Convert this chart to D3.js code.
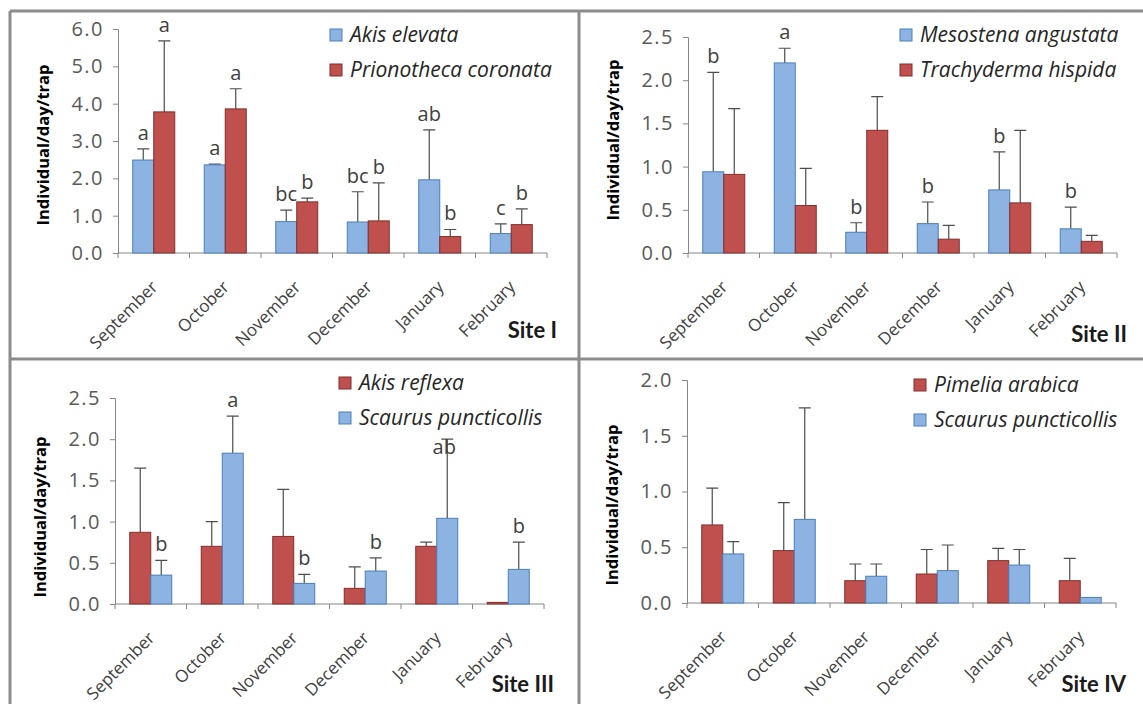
<!DOCTYPE html>
<html>
<head>
<meta charset="utf-8">
<script src="https://cdn.jsdelivr.net/npm/d3@7"></script>
<style>
  body { margin: 0; background: #fff; }
  svg { display: block; }
  text { font-family: "Open Sans", Lato, sans-serif; }
</style>
</head>
<body>
<div id="chart"></div>
<script>
// Months shared by all four sites
const months = ["September", "October", "November", "December", "January", "February"];

// Site I
const site1Names = ["Akis elevata", "Prionotheca coronata"];
const site1A = [2.49, 2.36, 0.84, 0.83, 1.96, 0.52];
const site1AErr = [2.79, 2.38, 1.15, 1.64, 3.30, 0.78];
const site1B = [3.78, 3.86, 1.37, 0.86, 0.44, 0.76];
const site1BErr = [5.68, 4.40, 1.47, 1.88, 0.63, 1.18];
const site1ALetters = ["a", "a", "bc", "bc", "ab", "c"];
const site1BLetters = ["a", "a", "b", "b", "b", "b"];
const site1Ticks = [0, 1, 2, 3, 4, 5, 6];

// Site II
const site2Names = ["Mesostena angustata", "Trachyderma hispida"];
const site2A = [0.94, 2.20, 0.24, 0.34, 0.73, 0.28];
const site2AErr = [2.09, 2.37, 0.35, 0.59, 1.17, 0.53];
const site2B = [0.91, 0.55, 1.42, 0.16, 0.58, 0.135];
const site2BErr = [1.67, 0.98, 1.81, 0.32, 1.42, 0.205];
const site2ALetters = ["b", "a", "b", "b", "b", "b"];
const site2BLetters = ["", "", "", "", "", ""];
const site2Ticks = [0, 0.5, 1, 1.5, 2, 2.5];

// Site III
const site3Names = ["Akis reflexa", "Scaurus puncticollis"];
const site3A = [0.87, 0.70, 0.82, 0.19, 0.70, 0.02];
const site3AErr = [1.65, 1.00, 1.39, 0.45, 0.75, 0.02];
const site3B = [0.35, 1.83, 0.25, 0.40, 1.04, 0.42];
const site3BErr = [0.53, 2.28, 0.36, 0.56, 2.00, 0.75];
const site3ALetters = ["", "", "", "", "", ""];
const site3BLetters = ["b", "a", "b", "b", "ab", "b"];
const site3Ticks = [0, 0.5, 1, 1.5, 2, 2.5];

// Site IV
const site4Names = ["Pimelia arabica", "Scaurus puncticollis"];
const site4A = [0.70, 0.47, 0.20, 0.26, 0.38, 0.20];
const site4AErr = [1.03, 0.90, 0.35, 0.48, 0.49, 0.40];
const site4B = [0.44, 0.75, 0.24, 0.29, 0.34, 0.05];
const site4BErr = [0.55, 1.75, 0.35, 0.52, 0.48, 0.05];
const site4ALetters = ["", "", "", "", "", ""];
const site4BLetters = ["", "", "", "", "", ""];
const site4Ticks = [0, 0.5, 1, 1.5, 2];

const blue = { fill: "#8db3e2", stroke: "#4a7ebb" };
const red = { fill: "#c0504d", stroke: "#7f2f2d" };

const svg = d3.select("#chart").append("svg")
  .attr("width", 1143)
  .attr("height", 704);

// Panel frame lines
const frame = svg.append("g").attr("stroke", "#8c8c8c").attr("stroke-width", 3);
frame.append("line").attr("x1", 10).attr("x2", 1143).attr("y1", 11).attr("y2", 11);
frame.append("line").attr("x1", 10).attr("x2", 10).attr("y1", 11).attr("y2", 704);
frame.append("line").attr("x1", 10).attr("x2", 1143).attr("y1", 359).attr("y2", 359);
frame.append("line").attr("x1", 579).attr("x2", 579).attr("y1", 11).attr("y2", 704);

function drawPanel(p) {
  const g = svg.append("g").attr("transform", `translate(${p.left},${p.top})`);
  const w = 429;
  const h = p.bottom - p.top;

  const x = d3.scaleBand().domain(months).range([0, w]);
  const xs = d3.scaleBand().domain([0, 1])
    .range([(x.bandwidth() - 42) / 2, (x.bandwidth() + 42) / 2]);
  const y = d3.scaleLinear().domain([0, p.max]).range([h, 0]);

  const series = p.series.map((s, i) => ({
    i: i,
    color: s.color,
    rows: months.map((m, j) => ({ m: m, j: j, v: s.values[j], e: s.err[j], l: s.letters[j] }))
  }));

  // y axis
  const ya = g.append("g")
    .call(d3.axisLeft(y).tickValues(p.ticks).tickFormat(d3.format(".1f"))
      .tickSize(5).tickSizeOuter(5).tickPadding(9));
  ya.select(".domain").attr("stroke", "#868686");
  ya.selectAll(".tick line").attr("stroke", "#868686");
  ya.selectAll(".tick text").attr("fill", "#595959").attr("font-size", 20)
    .attr("letter-spacing", 1.5)
    .style("font-family", "'Open Sans', sans-serif");

  // x axis with ticks between categories
  const xa = g.append("g").attr("transform", `translate(0,${h})`);
  xa.append("line").attr("x1", 0).attr("x2", w).attr("stroke", "#868686");
  xa.selectAll(".xt").data(d3.range(months.length + 1)).enter().append("line")
    .attr("x1", (d) => d * x.step()).attr("x2", (d) => d * x.step())
    .attr("y1", 0).attr("y2", 5).attr("stroke", "#868686");
  xa.selectAll(".xl").data(months).enter().append("text")
    .attr("text-anchor", "end")
    .attr("font-size", 17)
    .attr("fill", "#404040")
    .attr("transform", (d) => `translate(${x(d) + x.bandwidth() / 2 + 5},${35}) rotate(-45)`)
    .text((d) => d);

  series.forEach((s) => {
    const sg = g.append("g");
    // error bars (upper only)
    sg.selectAll(".err").data(s.rows.filter((r) => r.e > r.v + 0.005)).enter().append("path")
      .attr("d", (r) => {
        const cx = x(r.m) + xs(s.i) + xs.bandwidth() / 2;
        return `M${cx},${y(r.v)}V${y(r.e)}M${cx - 6},${y(r.e)}H${cx + 6}`;
      })
      .attr("stroke", "#4d4d4d")
      .attr("stroke-width", 1.2)
      .attr("fill", "none");
    sg.selectAll(".bar").data(s.rows).enter().append("rect")
      .attr("x", (r) => x(r.m) + xs(s.i))
      .attr("width", xs.bandwidth())
      .attr("y", (r) => y(r.v))
      .attr("height", (r) => h - y(r.v))
      .attr("fill", s.color.fill)
      .attr("stroke", s.color.stroke)
      .attr("stroke-width", 1);
    const shift = s.i === 1 && p.letterShift ? p.letterShift : {};
    sg.selectAll(".lab").data(s.rows.filter((r) => r.l)).enter().append("text")
      .attr("x", (r) => x(r.m) + xs(s.i) + xs.bandwidth() / 2 + (shift[r.j] ? shift[r.j][0] : 0))
      .attr("y", (r) => y(r.e) - 9 + (shift[r.j] ? shift[r.j][1] : 0))
      .attr("text-anchor", "middle")
      .attr("font-size", 20)
      .attr("fill", "#404040")
      .text((r) => r.l);
  });

  // y axis title
  g.append("text")
    .attr("transform", `translate(${-75},${p.titleY}) rotate(-90)`)
    .attr("text-anchor", "middle")
    .attr("dy", "0.35em")
    .attr("font-size", 16.5)
    .attr("font-weight", "bold")
    .attr("fill", "#000")
    .text("Individual/day/trap");

  // legend
  const lg = g.append("g").attr("transform", `translate(${p.legendX},${p.legendY})`);
  p.series.forEach((s, i) => {
    lg.append("rect").attr("x", 0).attr("y", i * 35 - 6).attr("width", 12).attr("height", 12)
      .attr("fill", s.color.fill).attr("stroke", s.color.stroke);
    lg.append("text").attr("x", 20).attr("y", i * 35 + 7)
      .attr("font-size", 21).attr("font-style", "italic").attr("fill", "#262626")
      .text(s.name);
  });

  // site name
  g.append("text")
    .attr("x", w + 10)
    .attr("y", h + p.siteDy)
    .attr("text-anchor", "end")
    .attr("font-size", 22)
    .attr("font-weight", "bold")
    .attr("fill", "#1a1a1a")
    .style("font-family", "Lato, sans-serif")
    .text(p.site);
}

drawPanel({
  left: 118, top: 29, bottom: 253, max: 6, ticks: site1Ticks, site: "Site I", siteDy: 85,
  legendX: 212, legendY: 6, titleY: 116,
  series: [
    { name: site1Names[0], values: site1A, err: site1AErr, letters: site1ALetters, color: blue },
    { name: site1Names[1], values: site1B, err: site1BErr, letters: site1BLetters, color: red }
  ]
});

drawPanel({
  left: 688, top: 37, bottom: 253, max: 2.5, ticks: site2Ticks, site: "Site II", siteDy: 89,
  legendX: 212, legendY: -2, titleY: 103,
  series: [
    { name: site2Names[0], values: site2A, err: site2AErr, letters: site2ALetters, color: blue },
    { name: site2Names[1], values: site2B, err: site2BErr, letters: site2BLetters, color: red }
  ]
});

drawPanel({
  left: 115, top: 398, bottom: 604, max: 2.5, ticks: site3Ticks, site: "Site III", siteDy: 88,
  legendX: 224, legendY: -15, titleY: 119,
  letterShift: { 4: [-3, 24] },
  series: [
    { name: site3Names[0], values: site3A, err: site3AErr, letters: site3ALetters, color: red },
    { name: site3Names[1], values: site3B, err: site3BErr, letters: site3BLetters, color: blue }
  ]
});

drawPanel({
  left: 687, top: 380, bottom: 603, max: 2, ticks: site4Ticks, site: "Site IV", siteDy: 89,
  legendX: 227, legendY: 5, titleY: 125,
  series: [
    { name: site4Names[0], values: site4A, err: site4AErr, letters: site4ALetters, color: red },
    { name: site4Names[1], values: site4B, err: site4BErr, letters: site4BLetters, color: blue }
  ]
});
</script>
</body>
</html>
